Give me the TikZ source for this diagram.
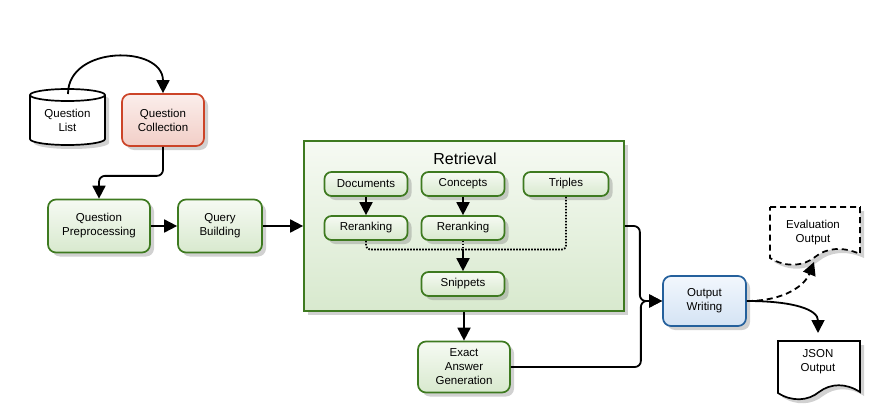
\documentclass[tikz,border=0pt]{standalone}
\usepackage{fontspec}
\setmainfont{Liberation Sans}
\usetikzlibrary{arrows.meta,shadows}
\definecolor{gborder}{RGB}{62,122,32}
\definecolor{gtop}{RGB}{246,250,243}
\definecolor{gbot}{RGB}{216,233,206}
\definecolor{rborder}{RGB}{204,68,40}
\definecolor{rtop}{RGB}{251,238,235}
\definecolor{rbot}{RGB}{242,206,199}
\definecolor{bborder}{RGB}{36,96,156}
\definecolor{btop}{RGB}{242,247,253}
\definecolor{bbot}{RGB}{212,227,244}
\tikzset{
  shad/.style={drop shadow={shadow xshift=4pt,shadow yshift=-4pt,opacity=.3,fill=black!60}},
  txt/.style={font=\fontsize{11.5}{14}\selectfont, align=center, inner sep=0pt},
  gbox/.style={txt, rectangle, rounded corners=8pt, draw=gborder, line width=1.7pt, top color=gtop, bottom color=gbot, shad},
  rbox/.style={gbox, draw=rborder, top color=rtop, bottom color=rbot},
  bbox/.style={gbox, draw=bborder, top color=btop, bottom color=bbot},
  sbox/.style={gbox, rounded corners=7pt, minimum width=83pt, minimum height=24pt},
  conn/.style={line width=1.8pt, rounded corners=6pt, -{Triangle[length=13pt,width=13pt]}},
  dotc/.style={line width=1.8pt, dash pattern=on 1.6pt off 1.4pt, rounded corners=4pt},
  doc/.style={draw=black, line width=1.7pt, fill=white, shad},
}
\begin{document}
\begin{tikzpicture}[x=1pt,y=-1pt]
\useasboundingbox (0,0) rectangle (886,412);

% Question List cylinder
\path[doc] (30,95) -- (30,139) arc[start angle=180,end angle=360,x radius=37.5pt,y radius=6pt]
  -- (105,95) arc[start angle=0,end angle=180,x radius=37.5pt,y radius=6pt] -- cycle;
\draw[line width=1.7pt] (30,95) arc[start angle=180,end angle=360,x radius=37.5pt,y radius=6pt];
\node[txt] (ql) at (67.5,120) {Question\\List};

\node[rbox, minimum width=82pt, minimum height=52pt] (qc) at (163,120) {Question\\Collection};
\node[gbox, minimum width=102pt, minimum height=53pt] (qp) at (99,226) {Question\\Preprocessing};
\node[gbox, minimum width=84pt, minimum height=53pt] (qb) at (220,226) {Query\\Building};

% Retrieval
\node[gbox, rounded corners=0pt, minimum width=320pt, minimum height=170pt] (ret) at (464,226) {};
\node[txt, font=\fontsize{16}{18}\selectfont] (rt) at (465,159) {Retrieval};
\node[sbox] (doc) at (366,184) {Documents};
\node[sbox] (con) at (463,184) {Concepts};
\node[sbox, minimum width=85pt] (tri) at (566,184) {Triples};
\node[sbox] (rr1) at (366,228) {Reranking};
\node[sbox] (rr2) at (463,228) {Reranking};
\node[sbox] (sni) at (463,284) {Snippets};
\coordinate (j) at (463,249.5);

\node[gbox, minimum width=92pt, minimum height=51pt] (eag) at (464,367) {Exact\\Answer\\Generation};
\node[bbox, minimum width=83pt, minimum height=50pt] (ow) at (704.5,301) {Output\\Writing};

% Evaluation Output (dashed document)
\path[doc, dash pattern=on 6pt off 4pt] (770,207) -- (860,207) -- (860,254)
  .. controls (842,246) and (826,248) .. (815,257)
  .. controls (804,266) and (786,268) .. (770,258) -- cycle;
\node[txt] (eo) at (813,233) {Evaluation\\Output};

% JSON Output document
\path[doc] (778,341) -- (860,341) -- (860,392)
  .. controls (846,383) and (831,383) .. (819,392)
  .. controls (808,401) and (792,402) .. (778,393) -- cycle;
\node[txt] (jo) at (818,362) {JSON\\Output};

% connectors
\draw[conn] (68,94) .. controls (68,45) and (163,45) .. (qc.north);
\draw[conn] (qc.south) -- ++(0,29) -| (qp.north);
\draw[conn] (qp.east) -- (qb.west);
\draw[conn] (qb.east) -- (ret.west);
\draw[conn] (doc.south) -- (rr1.north);
\draw[conn] (con.south) -- (rr2.north);
\draw[dotc] (rr1.south) |- (j);
\draw[dotc] (rr2.south) -- (j);
\draw[dotc] (tri.south) |- (j);
\draw[conn] (j) -- (sni.north);
\draw[conn] (ret.south) -- (eag.north);
\draw[conn] (ret.east) -- ++(15,0) |- (ow.west);
\draw[conn] (eag.east) -- ++(130,0) |- (ow.west);
\draw[conn, dash pattern=on 6pt off 4pt] (ow.east) .. controls (785,301) and (805,285) .. (814,262);
\draw[conn] (ow.east) .. controls (795,301) and (818,310) .. (818,333);
\end{tikzpicture}
\end{document}
